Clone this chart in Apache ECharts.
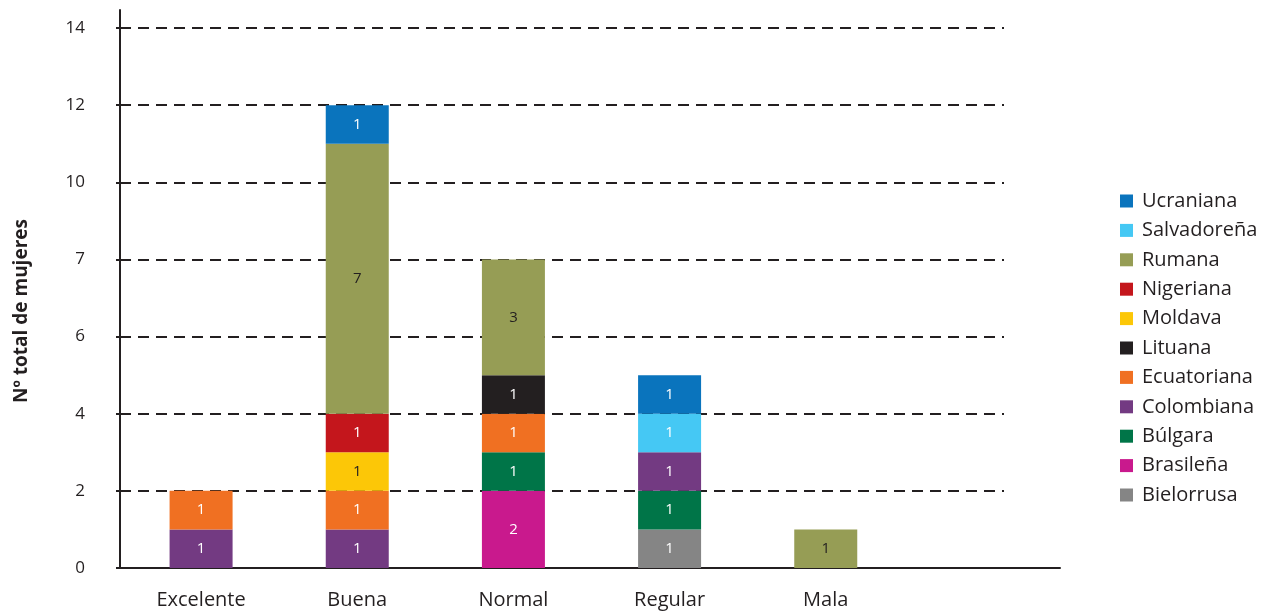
<!DOCTYPE html>
<html>
<head>
<meta charset="utf-8">
<script src="https://cdn.jsdelivr.net/npm/echarts@6/dist/echarts.min.js"></script>
<style>
  html, body { margin: 0; padding: 0; background: #ffffff; }
  #chart { width: 1275px; height: 614px; }
</style>
</head>
<body>
<div id="chart"></div>
<script>
// Valoración de la salud por nacionalidad: número de mujeres por categoría
const categories = ['Excelente', 'Buena', 'Normal', 'Regular', 'Mala'];

// Etiquetas del eje vertical, una por cada línea de referencia (0, 2, 4, ...)
const yTickLabels = ['0', '2', '4', '6', '7', '10', '12', '14'];

// Valores por nacionalidad (orden de apilado, de abajo arriba)
const bielorrusa  = [null, null, null, 1, null];
const brasilena   = [null, null, 2, null, null];
const bulgara     = [null, null, 1, 1, null];
const colombiana  = [1, 1, null, 1, null];
const ecuatoriana = [1, 1, 1, null, null];
const lituana     = [null, null, 1, null, null];
const moldava     = [null, 1, null, null, null];
const nigeriana   = [null, 1, null, null, null];
const rumana      = [null, 7, 3, null, 1];
const salvadorena = [null, null, null, 1, null];
const ucraniana   = [null, 1, null, 1, null];

const seriesDefs = [
  { name: 'Bielorrusa',  data: bielorrusa,  color: '#858585', label: '#ffffff' },
  { name: 'Brasileña',   data: brasilena,   color: '#c9198d', label: '#ffffff' },
  { name: 'Búlgara',     data: bulgara,     color: '#007548', label: '#ffffff' },
  { name: 'Colombiana',  data: colombiana,  color: '#733a82', label: '#ffffff' },
  { name: 'Ecuatoriana', data: ecuatoriana, color: '#f07022', label: '#ffffff' },
  { name: 'Lituana',     data: lituana,     color: '#231f20', label: '#ffffff' },
  { name: 'Moldava',     data: moldava,     color: '#fcc707', label: '#231f20' },
  { name: 'Nigeriana',   data: nigeriana,   color: '#c4161c', label: '#ffffff' },
  { name: 'Rumana',      data: rumana,      color: '#969d55', label: '#231f20' },
  { name: 'Salvadoreña', data: salvadorena, color: '#45c8f4', label: '#ffffff' },
  { name: 'Ucraniana',   data: ucraniana,   color: '#0a74bd', label: '#ffffff' }
];

const INK = '#231f20';
const FONT = '"Open Sans", "Noto Sans", sans-serif';
const Y_MAX = 14.47;

const chart = echarts.init(document.getElementById('chart'), null, { renderer: 'canvas' });

const option = {
  backgroundColor: '#ffffff',
  animation: false,
  textStyle: { fontFamily: FONT, color: INK },
  grid: [
    // rejilla de líneas discontinuas y eje vertical
    { left: 120, right: 271, top: 10, bottom: 46 },
    // rejilla de las barras
    { left: 123, right: 215, top: 10, bottom: 46 }
  ],
  xAxis: [
    {
      gridIndex: 0,
      type: 'category',
      data: [''],
      axisLine: { show: true, lineStyle: { color: INK, width: 2 } },
      axisTick: { show: false },
      axisLabel: { show: false },
      splitLine: { show: false }
    },
    {
      gridIndex: 1,
      type: 'category',
      data: categories.concat(['']),
      axisLine: { show: true, lineStyle: { color: INK, width: 2 } },
      axisTick: { show: false },
      axisLabel: { color: INK, fontSize: 20, fontFamily: FONT, margin: 22 },
      splitLine: { show: false }
    }
  ],
  yAxis: [
    {
      gridIndex: 0,
      type: 'value',
      min: 0,
      max: Y_MAX,
      interval: 2,
      axisLine: { show: true, lineStyle: { color: INK, width: 2 } },
      axisTick: { show: true, length: 4, inside: false, lineStyle: { color: INK, width: 2 } },
      axisLabel: {
        color: INK,
        fontSize: 17,
        fontFamily: FONT,
        margin: 35,
        showMaxLabel: false,
        formatter: function (v) {
          const i = Math.round(v / 2);
          return Math.abs(v - i * 2) < 1e-6 && yTickLabels[i] !== undefined ? yTickLabels[i] : '';
        }
      },
      splitLine: {
        show: true,
        showMinLine: false,
        showMaxLine: false,
        lineStyle: { color: INK, width: 2, type: [11, 7] }
      }
    },
    {
      gridIndex: 1,
      type: 'value',
      min: 0,
      max: Y_MAX,
      show: false,
      splitLine: { show: false }
    }
  ],
  legend: {
    orient: 'vertical',
    left: 1115,
    top: 186,
    itemWidth: 13,
    itemHeight: 13,
    itemGap: 9.4,
    icon: 'rect',
    data: seriesDefs.map(s => s.name).reverse(),
    textStyle: {
      color: INK,
      fontSize: 20,
      fontFamily: FONT,
      lineHeight: 20,
      padding: [0, 0, 0, 4]
    }
  },
  graphic: [
    {
      type: 'text',
      x: 22,
      y: 311,
      rotation: Math.PI / 2,
      style: {
        text: 'Nº total de mujeres',
        fill: INK,
        font: 'bold 19px "Open Sans", sans-serif',
        align: 'center',
        verticalAlign: 'middle'
      }
    }
  ],
  series: seriesDefs.map(s => ({
    name: s.name,
    type: 'bar',
    stack: 'total',
    xAxisIndex: 1,
    yAxisIndex: 1,
    barWidth: 63,
    data: s.data,
    itemStyle: { color: s.color },
    label: {
      show: true,
      position: 'inside',
      color: s.label,
      fontSize: 15,
      fontFamily: FONT,
      formatter: p => (p.value == null ? '' : String(p.value))
    },
    emphasis: { disabled: true }
  }))
};

chart.setOption(option);
</script>
</body>
</html>
